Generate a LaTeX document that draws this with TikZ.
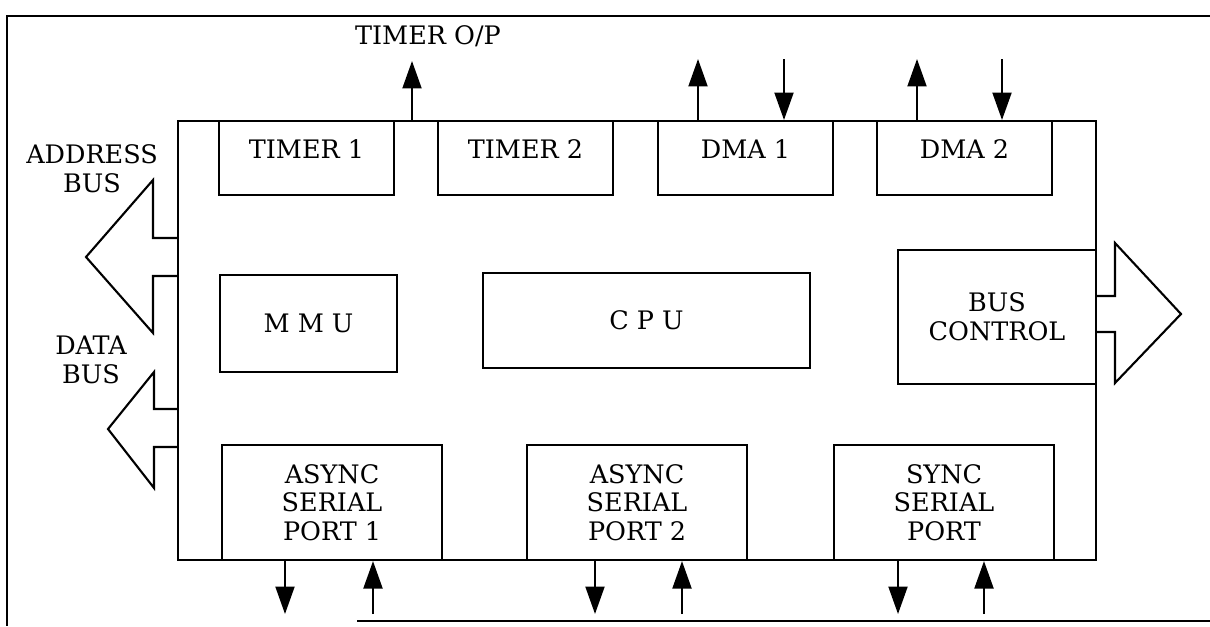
\documentclass[tikz,border=0pt]{standalone}
\usepackage{fontspec}
\setmainfont{DejaVu Serif}
\usepackage{tikz}
\usetikzlibrary{arrows.meta, calc}

\begin{document}
\begin{tikzpicture}[
    x=0.02cm, y=-0.02cm,
    font=\fontsize{14.5}{16.4}\selectfont,
    blk/.style={rectangle, draw, line width=1.2pt, align=center, anchor=north west, inner sep=2pt},
    topblk/.style={blk, minimum width=3.5cm, minimum height=1.48cm, text depth=0.38cm},
    lowblk/.style={blk, minimum width=4.4cm, minimum height=2.3cm},
    pin/.style={-{Triangle[length=0.55cm, width=0.38cm]}, line width=1.2pt},
    bus/.style={line width=1.2pt, line join=miter}
]
    \useasboundingbox (0,0) rectangle (1210,626);

    % outer frame
    \draw[line width=1.2pt] (1210,16) -- (7,16) -- (7,626);
    \draw[line width=1.2pt] (357,621) -- (1210,621);

    % chip outline
    \node[blk, minimum width=18.36cm, minimum height=8.78cm, inner sep=0pt] (chip) at (177,120) {};

    % top row
    \node[topblk] (tmr1) at (218,120) {TIMER 1};
    \node[topblk] (tmr2) at (437,120) {TIMER 2};
    \node[topblk] (dma1) at (657,120) {DMA 1};
    \node[topblk] (dma2) at (876,120) {DMA 2};

    % middle row
    \node[blk, minimum width=3.54cm, minimum height=1.94cm] (mmu) at (219,274) {M M U};
    \node[blk, minimum width=6.54cm, minimum height=1.9cm] (cpu) at (482,272) {C P U};
    \node[blk, minimum width=3.96cm, minimum height=2.68cm] (busc) at (897,249) {BUS\\CONTROL};

    % bottom row
    \node[lowblk] (asp1) at (221,444) {ASYNC\\SERIAL\\PORT 1};
    \node[lowblk] (asp2) at (526,444) {ASYNC\\SERIAL\\PORT 2};
    \node[lowblk] (ssp) at (833,444) {SYNC\\SERIAL\\PORT};

    % labels
    \node[align=center] (addr) at (92,169) {ADDRESS\\BUS};
    \node[align=center] (data) at (91,360) {DATA\\BUS};
    \node (tmolbl) at (428,36) {TIMER O/P};

    % pin ends
    \coordinate (tmo) at (412,61);
    \coordinate (d1o) at (698,59);
    \coordinate (d1i) at (784,59);
    \coordinate (d2o) at (917,59);
    \coordinate (d2i) at (1002,59);
    \coordinate (a1o) at (285,614);
    \coordinate (a1i) at (373,614);
    \coordinate (a2o) at (595,614);
    \coordinate (a2i) at (682,614);
    \coordinate (sso) at (898,614);
    \coordinate (ssi) at (984,614);

    \draw[pin] (tmo |- chip.north) -- (tmo);
    \foreach \p/\b in {d1o/dma1, d2o/dma2}
        \draw[pin] (\p |- \b.north) -- (\p);
    \foreach \p/\b in {d1i/dma1, d2i/dma2}
        \draw[pin] (\p) -- (\p |- \b.north);
    \foreach \p/\b in {a1o/asp1, a2o/asp2, sso/ssp}
        \draw[pin] (\p |- \b.south) -- (\p);
    \foreach \p/\b in {a1i/asp1, a2i/asp2, ssi/ssp}
        \draw[pin] (\p) -- (\p |- \b.south);

    % bus arrows
    \draw[bus] (chip.west |- 0,238) -- (153,238) -- (153,180) -- (86,257)
        -- (153,333) -- (153,276) -- (chip.west |- 0,276);
    \draw[bus] (chip.west |- 0,409) -- (154,409) -- (154,372) -- (108,429)
        -- (154,488) -- (154,447) -- (chip.west |- 0,447);
    \draw[bus] (chip.east |- 0,296) -- (1115,296) -- (1115,243) -- (1181,314)
        -- (1115,383) -- (1115,332) -- (chip.east |- 0,332);
\end{tikzpicture}
\end{document}
